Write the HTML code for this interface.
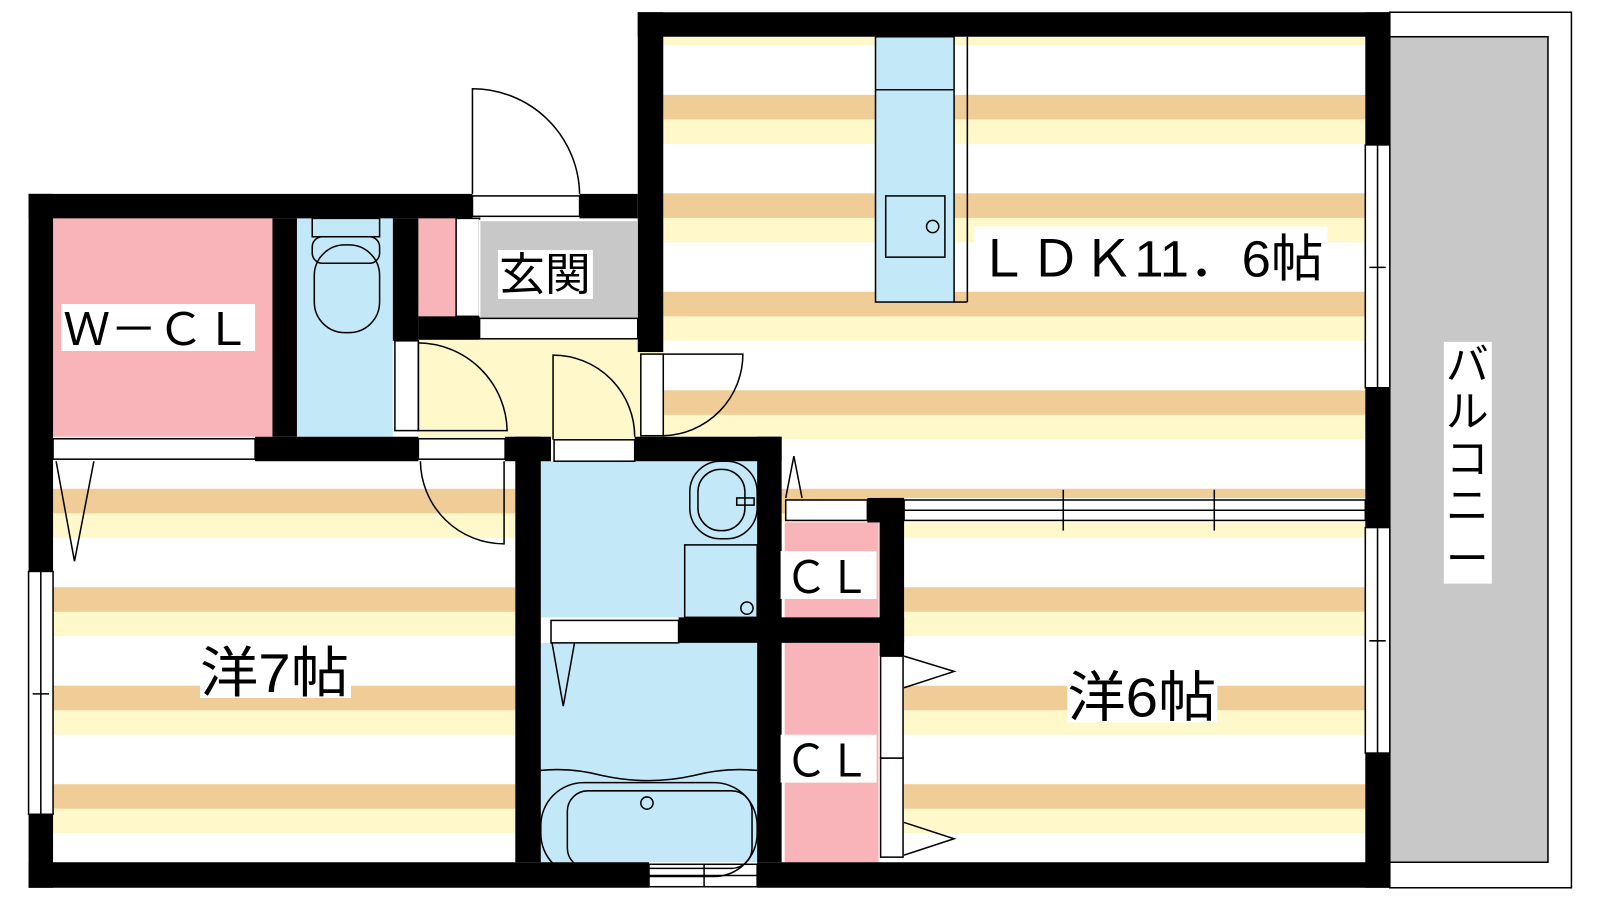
<!DOCTYPE html>
<html><head><meta charset="utf-8"><style>
body{margin:0;background:#fff;width:1600px;height:900px;overflow:hidden}
svg{display:block}
text{font-family:"Liberation Sans","Noto Sans CJK JP",sans-serif;fill:#000}
</style></head><body>
<svg width="1600" height="900" viewBox="0 0 1568 882" xmlns="http://www.w3.org/2000/svg">
<defs>
<pattern id="st" patternUnits="userSpaceOnUse" x="0" y="93" width="1600" height="96.5">
<rect x="0" y="0" width="1600" height="24" fill="#f0cc96"/>
<rect x="0" y="24" width="1600" height="24" fill="#fef8cb"/>
<rect x="0" y="48" width="1600" height="48.5" fill="#fff"/>
</pattern>
</defs>
<rect x="1362" y="12" width="178" height="858" fill="#fff" stroke="#000" stroke-width="1.5"/>
<rect x="1362" y="36" width="155" height="809" fill="#c8c8c8" stroke="#000" stroke-width="1.5"/>
<rect x="1415" y="335" width="47" height="237" fill="#fff"/>
<text x="1438" y="372" font-size="42" text-anchor="middle">バ</text>
<text x="1438" y="418" font-size="42" text-anchor="middle">ル</text>
<text x="1438" y="464" font-size="42" text-anchor="middle">コ</text>
<text x="1438" y="510" font-size="42" text-anchor="middle">ニ</text>
<text x="1438" y="562" font-size="42" text-anchor="middle">ー</text>
<rect x="650" y="36" width="688" height="452" fill="url(#st)"/>
<rect x="886" y="512" width="452" height="333" fill="url(#st)"/>
<rect x="52" y="452" width="453" height="393" fill="url(#st)"/>
<rect x="410" y="333" width="240" height="97" fill="#fef8cb"/>
<rect x="766" y="452" width="120" height="60" fill="url(#st)"/>
<rect x="52" y="214" width="215" height="214" fill="#f8b4b8"/>
<rect x="291" y="214" width="94" height="214" fill="#c3e8f8"/>
<rect x="410" y="214" width="37" height="96" fill="#f8b4b8"/>
<rect x="447" y="214" width="23" height="96" fill="#fff" stroke="#000" stroke-width="1.5"/>
<rect x="470" y="216" width="155" height="96" fill="#c8c8c8" stroke="#fff" stroke-width="1.5"/>
<rect x="470" y="312" width="155" height="20" fill="#fff" stroke="#000" stroke-width="1.5"/>
<rect x="530" y="452" width="212" height="153" fill="#c3e8f8"/>
<rect x="530" y="630" width="212" height="215" fill="#c3e8f8"/>
<rect x="769" y="512" width="92" height="93" fill="#f8b4b8"/>
<rect x="769" y="630" width="92" height="215" fill="#f8b4b8"/>
<g fill="#000">
<rect x="28" y="190" width="435" height="24"/>
<rect x="568" y="190" width="57" height="24"/>
<rect x="625" y="12" width="737" height="24"/>
<rect x="625" y="12" width="25" height="333"/>
<rect x="28" y="190" width="24" height="370"/>
<rect x="28" y="798" width="24" height="72"/>
<rect x="28" y="845" width="608" height="25"/>
<rect x="742" y="845" width="620" height="25"/>
<rect x="1338" y="12" width="24" height="130"/>
<rect x="1338" y="380" width="24" height="137"/>
<rect x="1338" y="738" width="24" height="132"/>
<rect x="267" y="214" width="24" height="214"/>
<rect x="385" y="214" width="25" height="120"/>
<rect x="410" y="310" width="60" height="23"/>
<rect x="250" y="428" width="160" height="24"/>
<rect x="495" y="428" width="45" height="24"/>
<rect x="622" y="428" width="144" height="24"/>
<rect x="505" y="428" width="25" height="417"/>
<rect x="742" y="428" width="24" height="417"/>
<rect x="665" y="605" width="221" height="25"/>
<rect x="850" y="488" width="36" height="24"/>
<rect x="862" y="488" width="24" height="155"/>
</g>
<g fill="#fff" stroke="#000" stroke-width="1.5">
<rect x="52" y="430" width="198" height="20"/>
<rect x="540" y="608" width="125" height="22"/>
<rect x="770" y="490" width="80" height="20"/>
<rect x="636" y="847" width="106" height="22"/>
<rect x="863" y="643" width="22" height="100"/>
<rect x="863" y="743" width="22" height="97"/>
<rect x="28" y="560" width="24" height="238"/>
<rect x="1338" y="142" width="24" height="238"/>
<rect x="1338" y="517" width="24" height="221"/>
<rect x="886" y="490" width="452" height="20"/>
<rect x="387" y="334" width="23" height="88"/>
<rect x="410" y="430" width="85" height="20"/>
<rect x="543" y="431" width="79" height="21"/>
<rect x="628" y="347" width="22" height="80"/>
<rect x="463" y="192" width="105" height="20"/>
</g>
<g fill="none" stroke="#000" stroke-width="1.5">
<line x1="40" y1="560" x2="40" y2="798"/><line x1="32" y1="680" x2="48" y2="680"/>
<line x1="1350" y1="142" x2="1350" y2="380"/><line x1="1342" y1="262" x2="1358" y2="262"/>
<line x1="1350" y1="517" x2="1350" y2="738"/><line x1="1342" y1="628" x2="1358" y2="628"/>
<line x1="886" y1="500" x2="1338" y2="500"/><line x1="1042" y1="480" x2="1042" y2="520"/><line x1="1190" y1="480" x2="1190" y2="520"/>
<line x1="636" y1="858" x2="742" y2="858"/><line x1="690" y1="847" x2="690" y2="869"/>
<path d="M463 190 V87 A105 105 0 0 1 568 190"/>
<path d="M410 422 V336 A88 88 0 0 1 497 422 Z"/>
<path d="M542 431 V348 A80 80 0 0 1 622 428"/>
<path d="M650 347 H728 A80 80 0 0 1 650 427"/>
<path d="M412 452 A82 82 0 0 0 494 533 V452"/>
<path d="M55 452 L73 550 L92 452"/>
<path d="M541 630 L552 692 L563 630"/>
<path d="M770 488 L778 447 L786 488"/>
<path d="M886 643 L935 658 L886 674"/>
<path d="M886 806 L935 822 L886 838"/>
<rect x="858" y="36" width="77" height="260" fill="#c3e8f8"/>
<line x1="858" y1="88" x2="935" y2="88"/>
<rect x="868" y="192" width="58" height="60"/>
<circle cx="914" cy="222" r="6"/>
<line x1="948" y1="36" x2="948" y2="296"/>
<line x1="935" y1="296" x2="948" y2="296"/>
<rect x="306" y="214" width="66" height="18"/>
<rect x="306" y="232" width="66" height="26" rx="10"/>
<rect x="308" y="240" width="64" height="86" rx="30"/>
<rect x="676" y="452" width="66" height="76" rx="30"/>
<rect x="684" y="460" width="46" height="60" rx="22"/>
<rect x="722" y="488" width="17" height="7"/>
<rect x="671" y="534" width="71" height="71"/>
<circle cx="732" cy="596" r="6"/>
<path d="M530 755 Q560 752 590 760 Q636 770 680 760 Q710 752 742 755"/>
<rect x="530" y="767" width="212" height="92" rx="42"/>
<rect x="556" y="775" width="181" height="76" rx="20"/>
<circle cx="634" cy="787" r="6"/>
</g>
<rect x="955" y="222" width="346" height="56" fill="#fff"/>
<text x="957" y="271" font-size="50" textLength="340" lengthAdjust="spacingAndGlyphs">ＬＤＫ11．6帖</text>
<rect x="60" y="298" width="190" height="46" fill="#fff"/>
<text x="62" y="338" font-size="44" textLength="184" lengthAdjust="spacingAndGlyphs">Ｗ－ＣＬ</text>
<rect x="488" y="245" width="93" height="48" fill="#fff"/>
<text x="489" y="284" font-size="44" textLength="90" lengthAdjust="spacingAndGlyphs">玄関</text>
<rect x="196" y="630" width="148" height="54" fill="#fff"/>
<text x="196" y="678" font-size="54" textLength="146" lengthAdjust="spacingAndGlyphs">洋7帖</text>
<rect x="1046" y="655" width="147" height="53" fill="#fff"/>
<text x="1046" y="702" font-size="54" textLength="146" lengthAdjust="spacingAndGlyphs">洋6帖</text>
<rect x="765" y="540" width="94" height="47" fill="#fff"/>
<text x="769" y="581" font-size="44" textLength="84" lengthAdjust="spacingAndGlyphs">ＣＬ</text>
<rect x="765" y="720" width="94" height="47" fill="#fff"/>
<text x="769" y="761" font-size="44" textLength="84" lengthAdjust="spacingAndGlyphs">ＣＬ</text>
</svg>
</body></html>
